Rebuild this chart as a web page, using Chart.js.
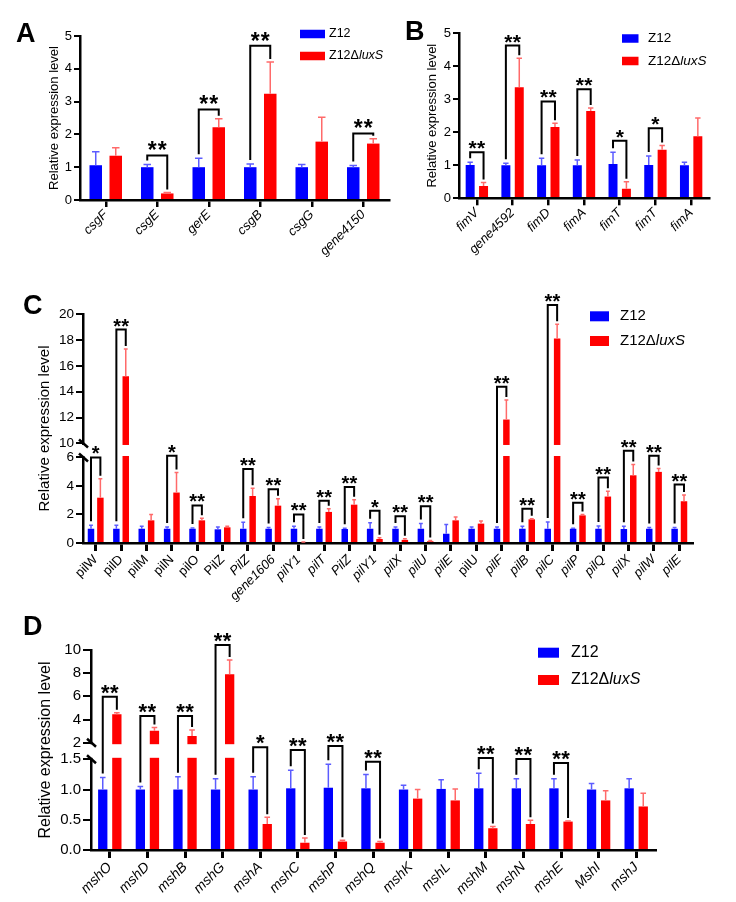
<!DOCTYPE html>
<html><head><meta charset="utf-8"><title>Relative expression level</title>
<script src="https://cdn.jsdelivr.net/npm/chart.js@4.4.1/dist/chart.umd.min.js"></script>
<style>
html,body{margin:0;padding:0;background:#fff;}
body{position:relative;width:736px;height:902px;overflow:hidden;}
canvas{position:absolute;display:block;}
</style></head>
<body>
<canvas id="panelA" width="400" height="262" style="left:0px;top:0px;width:400px;height:262px"></canvas>
<canvas id="panelB" width="336" height="262" style="left:400px;top:0px;width:336px;height:262px"></canvas>
<canvas id="panelC" width="736" height="365" style="left:0px;top:245px;width:736px;height:365px"></canvas>
<canvas id="panelD" width="736" height="292" style="left:0px;top:610px;width:736px;height:292px"></canvas>
<script>
// ---------------- data ----------------
const SERIES = ['Z12', 'Z12ΔluxS'];
const Y_TITLE = 'Relative expression level';

// Panel A
const genesA = ['csgF','csgE','gerE','csgB','csgG','gene4150'];
const z12A   = [1.06, 1.00, 1.00, 1.00, 1.00, 1.00];
const z12SdA = [0.41, 0.08, 0.27, 0.10, 0.08, 0.05];
const luxA   = [1.35, 0.20, 2.22, 3.24, 1.78, 1.72];
const luxSdA = [0.24, 0.03, 0.26, 0.97, 0.74, 0.15];
const sigA   = ['', '**', '**', '**', '', '**'];
const sigYA  = [null, 1.36, 2.76, 4.70, null, 2.03];
const yTicksA = [0,1,2,3,4,5];

// Panel B
const genesB = ['fimV','gene4592','fimD','fimA','fimT','fimT','fimA'];
const z12B   = [1.01, 1.00, 1.00, 1.00, 1.04, 1.01, 1.00];
const z12SdB = [0.08, 0.06, 0.21, 0.16, 0.35, 0.27, 0.09];
const luxB   = [0.37, 3.36, 2.16, 2.64, 0.29, 1.47, 1.88];
const luxSdB = [0.11, 0.88, 0.11, 0.09, 0.21, 0.13, 0.55];
const sigB   = ['**','**','**','**','*','*',''];
const sigYB  = [1.39, 4.62, 2.93, 3.30, 1.74, 2.12, null];
const yTicksB = [0,1,2,3,4,5];

// Panel C
const genesC = ['pilW','pilD','pilM','pilN','pilO','PilZ','PilZ','gene1606','pilY1','pilT','PilZ','pilY1',
                'pilX','pilU','pilE','pilU','pilF','pilB','pilC','pilP','pilQ','pilX','pilW','pilE'];
const italicC = [0,0,0,0,0,0,1,1,1,1,1,1,1,1,1,0,1,1,1,1,1,1,1,1];
const z12C   = [1.00,1.00,1.00,1.00,1.00,0.96,1.00,1.00,1.00,1.00,0.98,1.00,1.00,1.00,0.65,1.00,1.00,1.00,1.00,1.00,1.00,0.98,1.00,1.00];
const z12SdC = [0.24,0.24,0.17,0.12,0.05,0.16,0.45,0.08,0.17,0.12,0.05,0.42,0.12,0.36,0.64,0.12,0.12,0.17,0.47,0.03,0.20,0.19,0.08,0.08];
const luxC   = [3.18,15.2,1.59,3.54,1.59,1.10,3.30,2.62,0.05,2.18,2.69,0.28,0.22,0.12,1.59,1.36,11.85,1.66,18.1,1.94,3.26,4.75,4.99,2.93];
const luxSdC = [1.32,2.10,0.41,1.40,0.14,0.07,0.54,0.49,0.02,0.23,0.35,0.08,0.08,0.06,0.24,0.19,1.50,0.05,1.10,0.06,0.37,0.75,0.23,0.44];
const sigC   = ['*','**','','*','**','','**','**','**','**','**','*','**','**','','','**','**','**','**','**','**','**','**'];
const sigYC  = [6.0,18.8,null,6.5,2.64,null,5.2,3.78,2.0,2.96,3.93,2.27,1.87,2.58,null,null,14.38,2.41,20.7,2.83,4.59,7.9,6.47,4.1];
const yTicksC = [0,2,4,6,10,12,14,16,18,20];

// Panel D
const genesD = ['mshO','mshD','mshB','mshG','mshA','mshC','mshP','mshQ','mshK','mshL','mshM','mshN','mshE','MshI','mshJ'];
const z12D   = [1.00,1.00,1.00,1.00,1.00,1.02,1.03,1.02,1.00,1.01,1.02,1.02,1.02,1.00,1.02];
const z12SdD = [0.20,0.05,0.21,0.18,0.21,0.30,0.39,0.23,0.07,0.15,0.25,0.16,0.16,0.10,0.16];
const luxD   = [4.45,3.04,2.58,7.90,0.43,0.12,0.14,0.12,0.85,0.82,0.36,0.43,0.47,0.82,0.72];
const luxSdD = [0.13,0.28,0.52,1.24,0.11,0.08,0.02,0.02,0.15,0.19,0.03,0.06,0.01,0.16,0.22];
const sigD   = ['**','**','**','**','*','**','**','**','','','**','**','**','',''];
const sigYD  = [5.97,4.3,4.3,10.43,1.86,1.78,1.9,1.46,null,null,1.54,1.51,1.44,null,null];
const yTicksD = [0,0.5,1,1.5,2,4,6,8,10];

// ---------------- setup ----------------
const FONT = "'Liberation Sans', Arial, Helvetica, sans-serif";
Chart.defaults.font.family = FONT;
Chart.defaults.color = '#000';

const BLUE = '#0000ff', RED = '#ff0000';
const BLUE_ERR = '#5c5cff', RED_ERR = '#ff6a6a';

const BREAKS = {};
const PANELS = {};

const LinearScale = Chart.LinearScale || Chart.registry.getScale('linear');
class BrokenScale extends LinearScale {
  buildTicks() {
    return BREAKS[this.chart.canvas.id].ticks.map(v => ({value: v}));
  }
  _dec(v) {
    const b = BREAKS[this.chart.canvas.id];
    const min = this.min, max = this.max;
    if (v <= b.low) return (v - min) / (b.low - min) * b.fLow;
    if (v < b.high) return b.fLow + (v - b.low) / (b.high - b.low) * (b.fHigh - b.fLow);
    return b.fHigh + (v - b.high) / (max - b.high) * (1 - b.fHigh);
  }
  getPixelForValue(v) {
    if (v === null || v === undefined || isNaN(v)) return NaN;
    return this.getPixelForDecimal(this._dec(v));
  }
  getValueForPixel(p) {
    const b = BREAKS[this.chart.canvas.id];
    const d = this.getDecimalForPixel(p);
    if (d <= b.fLow) return this.min + d / b.fLow * (b.low - this.min);
    if (d < b.fHigh) return b.low + (d - b.fLow) / (b.fHigh - b.fLow) * (b.high - b.low);
    return b.high + (d - b.fHigh) / (1 - b.fHigh) * (this.max - b.high);
  }
}
BrokenScale.id = 'broken';
BrokenScale.defaults = LinearScale.defaults;
Chart.register(BrokenScale);

function drawLegend(ctx, L, datasets) {
  datasets.forEach((ds, i) => {
    const cy = L.y + i * L.dy;
    ctx.fillStyle = ds.backgroundColor;
    ctx.fillRect(L.x, cy - L.bh / 2, L.bw, L.bh);
    ctx.fillStyle = '#000';
    ctx.textBaseline = 'middle';
    ctx.textAlign = 'left';
    const parts = ds.label.split('Δ');
    let x = L.tx;
    ctx.font = L.size + 'px ' + FONT;
    const first = parts.length > 1 ? parts[0] + 'Δ' : parts[0];
    ctx.fillText(first, x, cy);
    x += ctx.measureText(first).width;
    if (parts.length > 1) {
      ctx.font = 'italic ' + L.size + 'px ' + FONT;
      ctx.fillText(parts[1], x, cy);
    }
  });
}

const annotPlugin = {
  id: 'annot',
  afterDraw(chart) {
    const id = chart.canvas.id;
    const P = PANELS[id];
    const ctx = chart.ctx, y = chart.scales.y, ca = chart.chartArea;
    const metas = [chart.getDatasetMeta(0), chart.getDatasetMeta(1)];
    const vals = [P.z12, P.lux], sds = [P.z12Sd, P.luxSd], cols = [BLUE_ERR, RED_ERR];
    ctx.save();
    // error bars (upper only)
    for (let k = 0; k < 2; k++) {
      ctx.strokeStyle = cols[k];
      ctx.lineWidth = 1.5;
      metas[k].data.forEach((bar, i) => {
        const top = y.getPixelForValue(vals[k][i] + sds[k][i]);
        const cw = bar.width * 0.6;
        ctx.beginPath();
        ctx.moveTo(bar.x, bar.y);
        ctx.lineTo(bar.x, top);
        ctx.moveTo(bar.x - cw / 2, top);
        ctx.lineTo(bar.x + cw / 2, top);
        ctx.stroke();
      });
    }
    // axis break
    const b = BREAKS[id];
    if (b) {
      const yHi = y.getPixelForValue(b.high), yLo = y.getPixelForValue(b.low);
      ctx.fillStyle = '#fff';
      ctx.fillRect(ca.left - 3, yHi + 1.5, ca.right - ca.left + 3, yLo - yHi - 3);
      ctx.strokeStyle = '#000';
      ctx.lineWidth = 2.5;
      [yHi, yLo].forEach(yy => {
        ctx.beginPath();
        ctx.moveTo(ca.left - 4, yy - 4);
        ctx.lineTo(ca.left + 5, yy + 4);
        ctx.stroke();
      });
    }
    // significance brackets
    ctx.strokeStyle = '#000';
    ctx.lineWidth = 2;
    ctx.fillStyle = '#000';
    ctx.textAlign = 'center';
    ctx.textBaseline = 'alphabetic';
    ctx.font = 'bold ' + P.starSize + 'px ' + FONT;
    P.sigY.forEach((h, i) => {
      if (h === null) return;
      const b0 = metas[0].data[i], b1 = metas[1].data[i];
      const yh = y.getPixelForValue(h);
      const yl = y.getPixelForValue(P.z12[i] + P.z12Sd[i]) - 4;
      const yr = y.getPixelForValue(P.lux[i] + P.luxSd[i]) - 3;
      ctx.beginPath();
      ctx.moveTo(b0.x, yl);
      ctx.lineTo(b0.x, yh);
      ctx.lineTo(b1.x, yh);
      ctx.lineTo(b1.x, yr);
      ctx.stroke();
      const n = P.sig[i].length;
      const cx = (b0.x + b1.x) / 2;
      for (let s = 0; s < n; s++) {
        ctx.fillText('*', cx + (s - (n - 1) / 2) * P.starSp, yh + P.starDy);
      }
    });
    // legend
    drawLegend(ctx, P.legend, chart.data.datasets);
    // panel letter
    ctx.fillStyle = '#000';
    ctx.textAlign = 'left';
    ctx.textBaseline = 'alphabetic';
    ctx.font = 'bold 27px ' + FONT;
    ctx.fillText(P.letter[0], P.letter[1], P.letter[2]);
    ctx.restore();
  }
};

function makePanel(id, cfg) {
  PANELS[id] = cfg;
  if (cfg.brk) BREAKS[id] = cfg.brk;
  const ds = (label, data, color) => ({
    label, data, backgroundColor: color, borderWidth: 0,
    categoryPercentage: cfg.catPct, barPercentage: cfg.barPct
  });
  new Chart(document.getElementById(id), {
    type: 'bar',
    data: {
      labels: cfg.labels,
      datasets: [ds(SERIES[0], cfg.z12, BLUE), ds(SERIES[1], cfg.lux, RED)]
    },
    options: {
      responsive: false,
      animation: false,
      devicePixelRatio: 1,
      events: [],
      layout: { padding: cfg.pad },
      plugins: { legend: { display: false }, tooltip: { enabled: false } },
      scales: {
        x: {
          type: 'category',
          ticks: {
            autoSkip: false, minRotation: 45, maxRotation: 45, padding: cfg.xPad,
            font: (c) => ({ family: FONT, size: cfg.xFont,
              style: (cfg.italic ? cfg.italic[c.index] : 1) ? 'italic' : 'normal' })
          },
          grid: { display: true, offset: false, drawOnChartArea: false, drawTicks: true,
                  tickLength: cfg.xTickLen, color: '#000', lineWidth: cfg.xTickW },
          border: { display: true, color: '#000', width: 2.5, z: 1 },
          afterFit: (s) => { s.height = cfg.xHeight; }
        },
        y: {
          type: cfg.brk ? 'broken' : 'linear',
          min: cfg.yTicks[0], max: cfg.yTicks[cfg.yTicks.length - 1],
          afterBuildTicks: (s) => { s.ticks = cfg.yTicks.map(v => ({ value: v })); },
          ticks: { autoSkip: false, padding: 2, font: { size: cfg.yFont },
                   callback: cfg.yFmt },
          grid: { display: true, drawOnChartArea: false, drawTicks: true,
                  tickLength: cfg.yTickLen, color: '#000', lineWidth: 2 },
          border: { display: true, color: '#000', width: 2.5, z: 1 },
          title: { display: true, text: Y_TITLE, font: { size: cfg.titleFont },
                   padding: { top: 0, bottom: 0 }, color: '#000' },
          afterFit: (s) => { s.width = cfg.yWidth; }
        }
      }
    },
    plugins: [annotPlugin]
  });
}

const intFmt = (v) => String(v);

makePanel('panelA', {
  labels: genesA, z12: z12A, z12Sd: z12SdA, lux: luxA, luxSd: luxSdA, sig: sigA, sigY: sigYA,
  yTicks: yTicksA, yFmt: intFmt,
  pad: { left: 47, top: 36, right: 11, bottom: 0 }, yWidth: 33, xHeight: 62,
  catPct: 0.777, barPct: 0.625, xFont: 13, xPad: 0, yFont: 13, titleFont: 13,
  xTickLen: 7, xTickW: 2.5, yTickLen: 6,
  starSize: 23, starSp: 10, starDy: 3,
  legend: { x: 300, y: 34, dy: 22, bw: 25, bh: 8.5, tx: 329, size: 12.5 },
  letter: ['A', 16, 42]
});

makePanel('panelB', {
  labels: genesB, z12: z12B, z12Sd: z12SdB, lux: luxB, luxSd: luxSdB, sig: sigB, sigY: sigYB,
  yTicks: yTicksB, yFmt: intFmt,
  pad: { left: 25, top: 33, right: 27, bottom: 0 }, yWidth: 34, xHeight: 63.7,
  catPct: 0.75, barPct: 0.67, xFont: 13, xPad: 0, yFont: 13, titleFont: 13,
  xTickLen: 7, xTickW: 2.5, yTickLen: 6,
  starSize: 21, starSp: 8.5, starDy: 3,
  legend: { x: 222, y: 38.5, dy: 22.5, bw: 16.5, bh: 8.5, tx: 248, size: 13.5 },
  letter: ['B', 5, 40]
});

makePanel('panelC', {
  labels: genesC, italic: italicC, z12: z12C, z12Sd: z12SdC, lux: luxC, luxSd: luxSdC, sig: sigC, sigY: sigYC,
  yTicks: yTicksC, yFmt: intFmt,
  brk: { ticks: yTicksC, low: 6, high: 10, fLow: 0.3734, fHigh: 0.4346 },
  pad: { left: 36, top: 69, right: 44, bottom: 0 }, yWidth: 47, xHeight: 67,
  catPct: 0.74, barPct: 0.69, xFont: 13, xPad: 1, yFont: 13.5, titleFont: 15,
  xTickLen: 8, xTickW: 3, yTickLen: 7,
  starSize: 20, starSp: 8, starDy: 3,
  legend: { x: 590, y: 71.3, dy: 24.7, bw: 19, bh: 10, tx: 620, size: 15 },
  letter: ['C', 23, 69]
});

makePanel('panelD', {
  labels: genesD, z12: z12D, z12Sd: z12SdD, lux: luxD, luxSd: luxSdD, sig: sigD, sigY: sigYD,
  yTicks: yTicksD, yFmt: (v) => (v < 2 ? v.toFixed(1) : String(v)),
  brk: { ticks: yTicksD, low: 1.5, high: 2, fLow: 0.4535, fHigh: 0.5365 },
  pad: { left: 36, top: 40, right: 81, bottom: 0 }, yWidth: 55, xHeight: 52,
  catPct: 0.75, barPct: 0.66, xFont: 14, xPad: 1, yFont: 15, titleFont: 16,
  xTickLen: 8, xTickW: 3, yTickLen: 8,
  starSize: 22, starSp: 9, starDy: 3,
  legend: { x: 538, y: 42.7, dy: 27.3, bw: 21, bh: 10, tx: 571, size: 16 },
  letter: ['D', 23, 25]
});
</script>
</body></html>
